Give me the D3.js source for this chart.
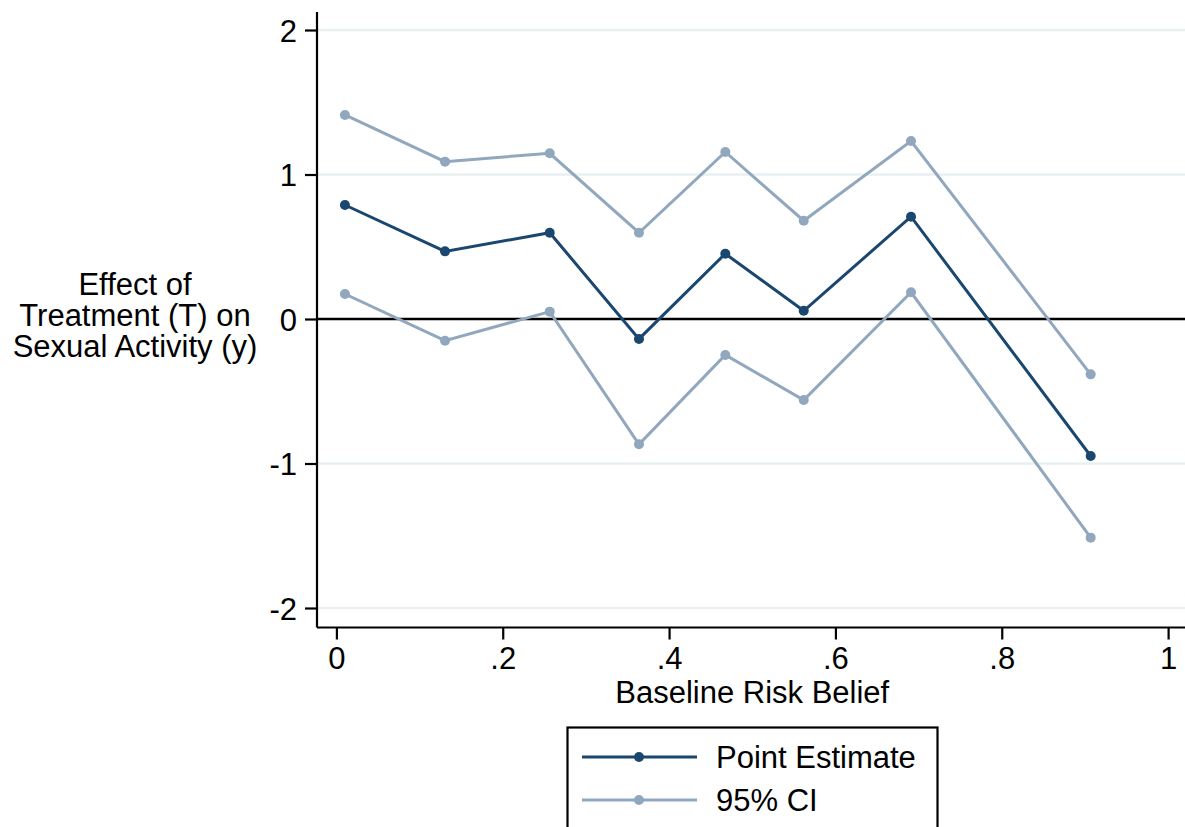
<!DOCTYPE html>
<html>
<head>
<meta charset="utf-8">
<script src="https://cdn.jsdelivr.net/npm/d3@7"></script>
<style>
  body { margin: 0; background: #fff; }
  svg text { font-family: "Liberation Sans", Arial, sans-serif; fill: #000; }
</style>
</head>
<body>
<div id="chart"></div>
<script>
// risk belief bins (x) and estimates
var riskBelief = [0.0103, 0.1306, 0.2565, 0.3638, 0.4676, 0.5619, 0.6909, 0.9069];
var pointEstimate = [0.789, 0.468, 0.597, -0.138, 0.452, 0.057, 0.708, -0.948];
var ciUpper = [1.412, 1.089, 1.147, 0.597, 1.156, 0.680, 1.232, -0.383];
var ciLower = [0.173, -0.150, 0.051, -0.867, -0.249, -0.561, 0.185, -1.513];
var xTicks = [0, 0.2, 0.4, 0.6, 0.8, 1];
var xTickLabels = ["0", ".2", ".4", ".6", ".8", "1"];
var yTicks = [-2, -1, 0, 1, 2];
var yTickLabels = ["-2", "-1", "0", "1", "2"];
var yTitle = ["Effect of", "Treatment (T) on", "Sexual Activity (y)"];
var legendLabels = ["Point Estimate", "95% CI"];

var W = 1185, H = 827;
var navy = "#1a476f", light = "#90a7bd";
var fs = "31px";

var svg = d3.select("#chart").append("svg")
    .attr("width", W)
    .attr("height", H);

var x = d3.scaleLinear().domain([0, 1]).range([336.4, 1168.1]);
var y = d3.scaleLinear().domain([-2, 2]).range([608, 30]);

var axisX = 317, axisY = 627.5;

// gridlines
svg.selectAll(".grid")
    .data(yTicks.filter(function(d) { return d !== 0; }))
    .enter().append("line")
    .attr("x1", axisX).attr("x2", W)
    .attr("y1", function(d) { return y(d); })
    .attr("y2", function(d) { return y(d); })
    .attr("stroke", "#e8f0f2")
    .attr("stroke-width", 2.5);

// zero line
svg.append("line")
    .attr("x1", axisX).attr("x2", W)
    .attr("y1", y(0)).attr("y2", y(0))
    .attr("stroke", "#000")
    .attr("stroke-width", 2.6);

// y axis
var gy = svg.append("g")
    .attr("transform", "translate(" + axisX + ",0)")
    .call(d3.axisLeft(y).tickValues(yTicks).tickSize(12).tickPadding(8)
        .tickFormat(function(d, i) { return yTickLabels[i]; }));
gy.select(".domain").remove();
gy.append("line").attr("x1", 0).attr("x2", 0).attr("y1", 12).attr("y2", axisY)
    .attr("stroke", "#000").attr("stroke-width", 2.2);
gy.selectAll(".tick line").attr("stroke", "#000").attr("stroke-width", 2.2);
gy.selectAll(".tick text").style("font-size", fs).attr("dy", "0.36em");

// x axis
var gx = svg.append("g")
    .attr("transform", "translate(0," + axisY + ")")
    .call(d3.axisBottom(x).tickValues(xTicks).tickSize(12).tickPadding(8)
        .tickFormat(function(d, i) { return xTickLabels[i]; }));
gx.select(".domain").remove();
gx.append("line").attr("x1", axisX).attr("x2", W).attr("y1", 0).attr("y2", 0)
    .attr("stroke", "#000").attr("stroke-width", 2.2);
gx.selectAll(".tick line").attr("stroke", "#000").attr("stroke-width", 2.2);
gx.selectAll(".tick text").style("font-size", fs).attr("dy", "0.68em");

// axis titles
svg.append("text")
    .attr("x", x(0.5)).attr("y", 703)
    .attr("text-anchor", "middle")
    .style("font-size", fs)
    .text("Baseline Risk Belief");

svg.append("g").selectAll("text")
    .data(yTitle)
    .enter().append("text")
    .attr("x", 135)
    .attr("y", function(d, i) { return 295 + i * 31; })
    .attr("text-anchor", "middle")
    .style("font-size", fs)
    .text(function(d) { return d; });

// series
var series = [
    { values: ciUpper, color: light },
    { values: ciLower, color: light },
    { values: pointEstimate, color: navy }
];
var line = d3.line()
    .x(function(d) { return x(d[0]); })
    .y(function(d) { return y(d[1]); });

series.forEach(function(s) {
    var pts = riskBelief.map(function(v, i) { return [v, s.values[i]]; });
    svg.append("path")
        .datum(pts)
        .attr("d", line)
        .attr("fill", "none")
        .attr("stroke", s.color)
        .attr("stroke-width", 3);
    svg.selectAll(null)
        .data(pts)
        .enter().append("circle")
        .attr("cx", function(d) { return x(d[0]); })
        .attr("cy", function(d) { return y(d[1]); })
        .attr("r", 5)
        .attr("fill", s.color);
});

// legend
var lg = svg.append("g");
lg.append("rect")
    .attr("x", 567.5).attr("y", 727.5)
    .attr("width", 370).attr("height", 120)
    .attr("fill", "#fff")
    .attr("stroke", "#000")
    .attr("stroke-width", 2.2);
[navy, light].forEach(function(c, i) {
    var ly = 757 + i * 43;
    lg.append("line").attr("x1", 582).attr("x2", 697).attr("y1", ly).attr("y2", ly)
        .attr("stroke", c).attr("stroke-width", 3);
    lg.append("circle").attr("cx", 639).attr("cy", ly).attr("r", 5).attr("fill", c);
    lg.append("text").attr("x", 716).attr("y", ly + 11)
        .style("font-size", fs)
        .text(legendLabels[i]);
});
</script>
</body>
</html>
